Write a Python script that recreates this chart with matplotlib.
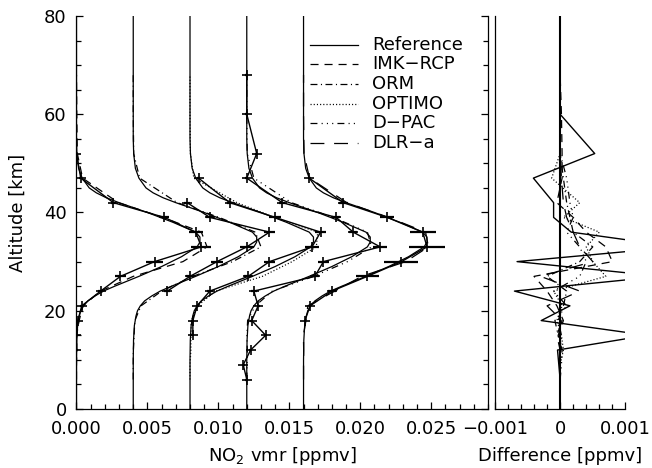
import matplotlib
matplotlib.use("Agg")
import matplotlib.pyplot as plt
from matplotlib.ticker import MultipleLocator, FormatStrFormatter
import numpy as np

plt.rcParams['font.family'] = ['DejaVu Sans']
plt.rcParams['lines.scale_dashes'] = False

################################################################################
#                                    DATA                                      #
################################################################################

# reference NO2 profile on a fine altitude grid [km], [ppmv]
ref_alt = [0, 10, 14, 17, 19, 20, 21, 22, 23, 24, 25, 27, 29, 31, 33, 34, 35,
           36, 38, 40, 42, 43, 44, 45, 47, 49, 52, 55, 80]
ref_vmr = [0, 0, 0.00002, 0.00008, 0.0002, 0.0003, 0.0005, 0.0008, 0.0013,
           0.0019, 0.0027, 0.0044, 0.0060, 0.0074, 0.0085, 0.0087, 0.0087,
           0.0084, 0.0068, 0.0050, 0.0030, 0.0021, 0.0014, 0.0009, 0.0004,
           0.00015, 0.00003, 0, 0]

# tangent altitude grid used for the difference panel
grid_alt = [6, 9, 12, 15, 18, 21, 24, 27, 30, 33, 36, 39, 42, 47, 52, 60, 68]

codes = ["IMK-RCP", "ORM", "OPTIMO", "D-PAC", "DLR-a"]
offsets = [0.0, 0.004, 0.008, 0.012, 0.016]

# retrieved values with errors (before offset), each on its own altitudes
imk_alt = [12, 15, 18, 21, 24, 27, 30, 33, 36, 39, 42, 47, 52]
imk_vmr = [0, 0, 0.0001, 0.00037, 0.0017, 0.0031, 0.0055, 0.0088, 0.0084,
           0.0062, 0.0026, 0.0003, 0]
imk_err = [0.0001, 0.0001, 0.0001, 0.0001, 0.0002, 0.0004, 0.0006, 0.0007,
           0.0005, 0.0003, 0.0002, 0.0001, 0.0001]

orm_alt = [24, 27, 30, 33, 36, 39, 42]
orm_vmr = [0.0024, 0.0040, 0.0059, 0.0080, 0.0096, 0.0054, 0.0038]
orm_err = [0.0002, 0.0003, 0.0004, 0.0005, 0.0004, 0.0003, 0.0002]

optimo_alt = [15, 18, 21, 24, 27, 30, 33, 36, 39, 42, 47]
optimo_vmr = [0.0002, 0.0002, 0.0005, 0.0014, 0.0041, 0.0056, 0.0086, 0.0092,
              0.0060, 0.0028, 0.0006]
optimo_err = [0.0001, 0.0001, 0.0001, 0.0002, 0.0003, 0.0004, 0.0005, 0.0004,
              0.0004, 0.0002, 0.0001]

dpac_alt = [6, 9, 12, 15, 18, 21, 24, 27, 30, 33, 36, 39, 42, 47, 52, 60, 68]
dpac_vmr = [0, -0.00025, 0.00027, 0.00133, 0.00035, 0.0008, 0.0005, 0.0048,
            0.0054, 0.0094, 0.0075, 0.0063, 0.0025, 0, 0.0007, 0, 0]
dpac_err = [0.0001, 0.0001, 0.0001, 0.0001, 0.0001, 0.0001, 0.0002, 0.0003,
            0.0004, 0.0005, 0.0003, 0.0003, 0.0002, 0.0001, 0.0001, 0.0001,
            0.0001]

dlr_alt = [18, 21, 24, 27, 30, 33, 36, 39, 42, 47]
dlr_vmr = [0.0001, 0.00046, 0.0020, 0.0045, 0.0069, 0.0087, 0.0084, 0.0059,
           0.0028, 0.0004]
dlr_err = [0.0001, 0.0001, 0.0003, 0.0008, 0.0012, 0.0013, 0.0009, 0.0005,
           0.0003, 0.0001]

# differences to the reference on grid_alt [ppmv]
imk_diff = [0, 0, 0.00001, -0.00003, 0.00005, -0.00005, -0.0002, -0.0004,
            0.0008, 0.0007, 0.0004, 0.0002, -0.00005, 0.00003, 0.00003,
            0.00002, 0]
orm_diff = [0, 0, 0, 0.00002, -0.00003, 0.00005, 0.0001, -0.0002, 0.0003,
            0.0005, 0.0002, 0.00015, 0.0001, 0.00005, 0, 0, 0]
optimo_diff = [0, 0, 0.00005, 0.00002, -0.00005, 0.00003, -0.0001, 0.0007,
               0.0005, 0.0004, 0.0006, 0.00005, 0.0003, -0.00013, 0, 0, 0]
dpac_diff = [0, 0.00002, 0.00003, -0.00003, -0.00008, 0.0001, -0.0001,
             0.0003, 0.0004, 0.0003, 0.0001, 0.0002, 0.00015, 0.0001, 0, 0, 0]
dlr_diff = [0, 0, 0, -0.00005, 0.00003, -0.0002, 0.0003, -0.0003, 0.0005,
            0.0003, 0.0002, 0.0001, 0.00005, 0.00002, 0, 0, 0]
solid_diff = [0, -0.00002, -0.00004, 0.00133, -0.00029, 0.00015, -0.0007,
              0.00155, -0.00066, 0.0018, 0.00017, -0.0001, -0.0001, -0.00041,
              0.00053, 0, 0]

################################################################################
#                                   STYLES                                     #
################################################################################

styles = {"IMK-RCP": (0, (5.8, 4.3)),
          "ORM":     (0, (5, 2.5, 0.8, 2.5)),
          "OPTIMO":  (0, (0.8, 1.5)),
          "D-PAC":   (0, (5, 3, 0.8, 3, 0.8, 3, 0.8, 3)),
          "DLR-a":   (0, (10, 7))}

retrievals = [(imk_alt, imk_vmr, imk_err, imk_diff),
              (orm_alt, orm_vmr, orm_err, orm_diff),
              (optimo_alt, optimo_vmr, optimo_err, optimo_diff),
              (dpac_alt, dpac_vmr, dpac_err, dpac_diff),
              (dlr_alt, dlr_vmr, dlr_err, dlr_diff)]

################################################################################
#                                    PLOT                                      #
################################################################################

fig = plt.figure(figsize=(6.52, 4.68), dpi=100)
ax = fig.add_axes([0.1173, 0.1261, 0.6312, 0.8397])
axd = fig.add_axes([0.7590, 0.1261, 0.2002, 0.8397])

ref_grid = np.interp(grid_alt, ref_alt, ref_vmr)

for name, off, (alt, vmr, err, diff) in zip(codes, offsets, retrievals):
    # reference profile, shifted
    ax.plot(np.array(ref_vmr) + off, ref_alt, color='k', lw=0.9)
    # retrieved profile with error bars
    ax.errorbar(np.array(vmr) + off, alt, xerr=err, color='k', lw=1.0,
                marker='+', ms=7, mew=1.2, elinewidth=1.6, capsize=0)
    # code result in its own line style
    ax.plot(ref_grid + np.array(diff) + off, grid_alt, color='k',
            lw=0.9, linestyle=styles[name])
    # difference panel
    axd.plot(diff, grid_alt, color='k', lw=0.9, linestyle=styles[name])

axd.plot(solid_diff, grid_alt, color='k', lw=1.0)
axd.plot([0, 0], [0, 80], color='k', lw=1.5)

# legend drawn by hand in axes coordinates
legend_y = [0.926, 0.877, 0.827, 0.777, 0.728, 0.678]
legend_names = ["Reference"] + codes
legend_styles = ['-'] + [styles[c] for c in codes]
for y, name, ls in zip(legend_y, legend_names, legend_styles):
    ax.plot([0.567, 0.684], [y, y], transform=ax.transAxes, color='k',
            lw=0.9, linestyle=ls, clip_on=False)
    ax.text(0.718, y, name.replace('-', '\u2212'), transform=ax.transAxes,
            fontsize=13, va='center', ha='left')

# left panel axes
ax.set_xlim(0, 0.029)
ax.set_ylim(0, 80)
ax.xaxis.set_major_locator(MultipleLocator(0.005))
ax.xaxis.set_minor_locator(MultipleLocator(0.001))
ax.xaxis.set_major_formatter(FormatStrFormatter('%.3f'))
ax.yaxis.set_major_locator(MultipleLocator(20))
ax.yaxis.set_minor_locator(MultipleLocator(5))
ax.spines['top'].set_visible(False)
ax.tick_params(which='both', direction='in', top=False, right=True,
               labelsize=13, width=0.9)
ax.tick_params(which='major', length=5, pad=8)
ax.tick_params(which='minor', length=3.5)
ax.tick_params(axis='y', which='major', pad=7)

# difference panel axes
axd.set_xlim(-0.001, 0.001)
axd.set_ylim(0, 80)
axd.set_xticks([-0.001, 0, 0.001])
axd.set_xticklabels(['\u22120.001', '0', '0.001'])
axd.xaxis.set_minor_locator(MultipleLocator(0.0002))
axd.set_yticks([])
axd.spines['top'].set_visible(False)
axd.spines['right'].set_visible(False)
axd.tick_params(which='both', direction='in', labelsize=13, width=0.9)
axd.tick_params(which='major', length=5, pad=8)
axd.tick_params(which='minor', length=3.5)

for a in (ax, axd):
    for s in a.spines.values():
        s.set_linewidth(0.9)

fig.text(18 / 652, 0.546, "Altitude [km]", rotation=90, fontsize=13,
         ha='center', va='center')
fig.text(282 / 652, 0.026, "NO$_2$ vmr [ppmv]", fontsize=13,
         ha='center', va='center')
fig.text(560 / 652, 0.026, "Difference [ppmv]", fontsize=13,
         ha='center', va='center')

fig.savefig("out.png", dpi=100)
